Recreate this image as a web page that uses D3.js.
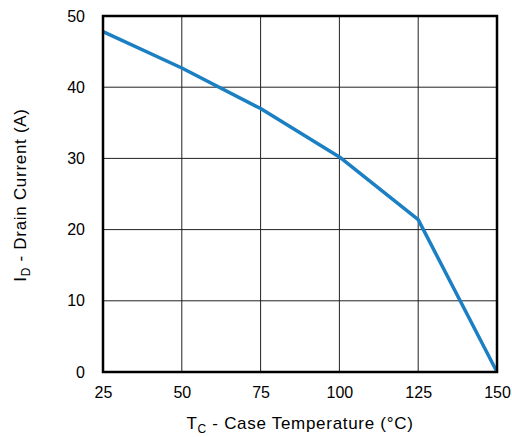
<!DOCTYPE html>
<html>
<head>
<meta charset="utf-8">
<script src="https://cdn.jsdelivr.net/npm/d3@7"></script>
<style>
  html, body { margin: 0; padding: 0; background: #fff; }
  svg { display: block; font-family: "Liberation Sans", Arial, sans-serif; }
</style>
</head>
<body>
<svg id="chart" width="512" height="437"></svg>
<script>
// Maximum drain current derating vs. case temperature
const caseTemp = [25, 50, 75, 100, 125, 150];
const drainCurrent = [47.8, 42.7, 37.0, 30.2, 21.4, 0];
const xTicks = [25, 50, 75, 100, 125, 150];
const yTicks = [0, 10, 20, 30, 40, 50];

const svg = d3.select("#chart");
const plot = { left: 103, right: 497, top: 16, bottom: 372 };
const tickFont = 16;
const titleFont = 17;

const x = d3.scaleLinear().domain([25, 150]).range([plot.left, plot.right]);
const y = d3.scaleLinear().domain([0, 50]).range([plot.bottom, plot.top]);

// grid
const grid = svg.append("g");
grid.selectAll("line.vx").data(xTicks.slice(1, -1)).join("line")
  .attr("x1", d => x(d)).attr("x2", d => x(d))
  .attr("y1", plot.top).attr("y2", plot.bottom)
  .attr("stroke", "#222").attr("stroke-width", 1);
grid.selectAll("line.hy").data(yTicks.slice(1, -1)).join("line")
  .attr("x1", plot.left).attr("x2", plot.right)
  .attr("y1", d => y(d)).attr("y2", d => y(d))
  .attr("stroke", "#222").attr("stroke-width", 1);

// axes (labels only; frame drawn separately)
const xAxis = svg.append("g").attr("transform", `translate(0,${plot.bottom})`)
  .call(d3.axisBottom(x).tickValues(xTicks).tickSize(0).tickPadding(15));
const yAxis = svg.append("g").attr("transform", `translate(${plot.left},0)`)
  .call(d3.axisLeft(y).tickValues(yTicks).tickSize(0).tickPadding(18));
[xAxis, yAxis].forEach(a => {
  a.select(".domain").remove();
  a.selectAll("text").attr("font-size", tickFont).attr("fill", "#000")
    .attr("font-family", "Liberation Sans, Arial, sans-serif");
});

// curve
svg.append("path")
  .datum(caseTemp.map((t, i) => [t, drainCurrent[i]]))
  .attr("fill", "none")
  .attr("stroke", "#1a7fc3")
  .attr("stroke-width", 3.5)
  .attr("stroke-linejoin", "round")
  .attr("d", d3.line().x(d => x(d[0])).y(d => y(d[1])));

// frame
svg.append("rect")
  .attr("x", plot.left).attr("y", plot.top)
  .attr("width", plot.right - plot.left).attr("height", plot.bottom - plot.top)
  .attr("fill", "none").attr("stroke", "#000").attr("stroke-width", 2.5);

// axis titles
const xt = svg.append("text")
  .attr("x", (plot.left + plot.right) / 2).attr("y", 429)
  .attr("text-anchor", "middle").attr("font-size", titleFont)
  .attr("letter-spacing", 0.7).attr("fill", "#000");
xt.append("tspan").text("T");
xt.append("tspan").attr("font-size", 12).attr("dy", 4).text("C");
xt.append("tspan").attr("dy", -4).text(" - Case Temperature (°C)");

const yt = svg.append("text")
  .attr("transform", "translate(26,195) rotate(-90)")
  .attr("text-anchor", "middle").attr("font-size", titleFont)
  .attr("letter-spacing", 0.7).attr("fill", "#000");
yt.append("tspan").text("I");
yt.append("tspan").attr("font-size", 12).attr("dy", 4).text("D");
yt.append("tspan").attr("dy", -4).text(" - Drain Current (A)");
</script>
</body>
</html>
